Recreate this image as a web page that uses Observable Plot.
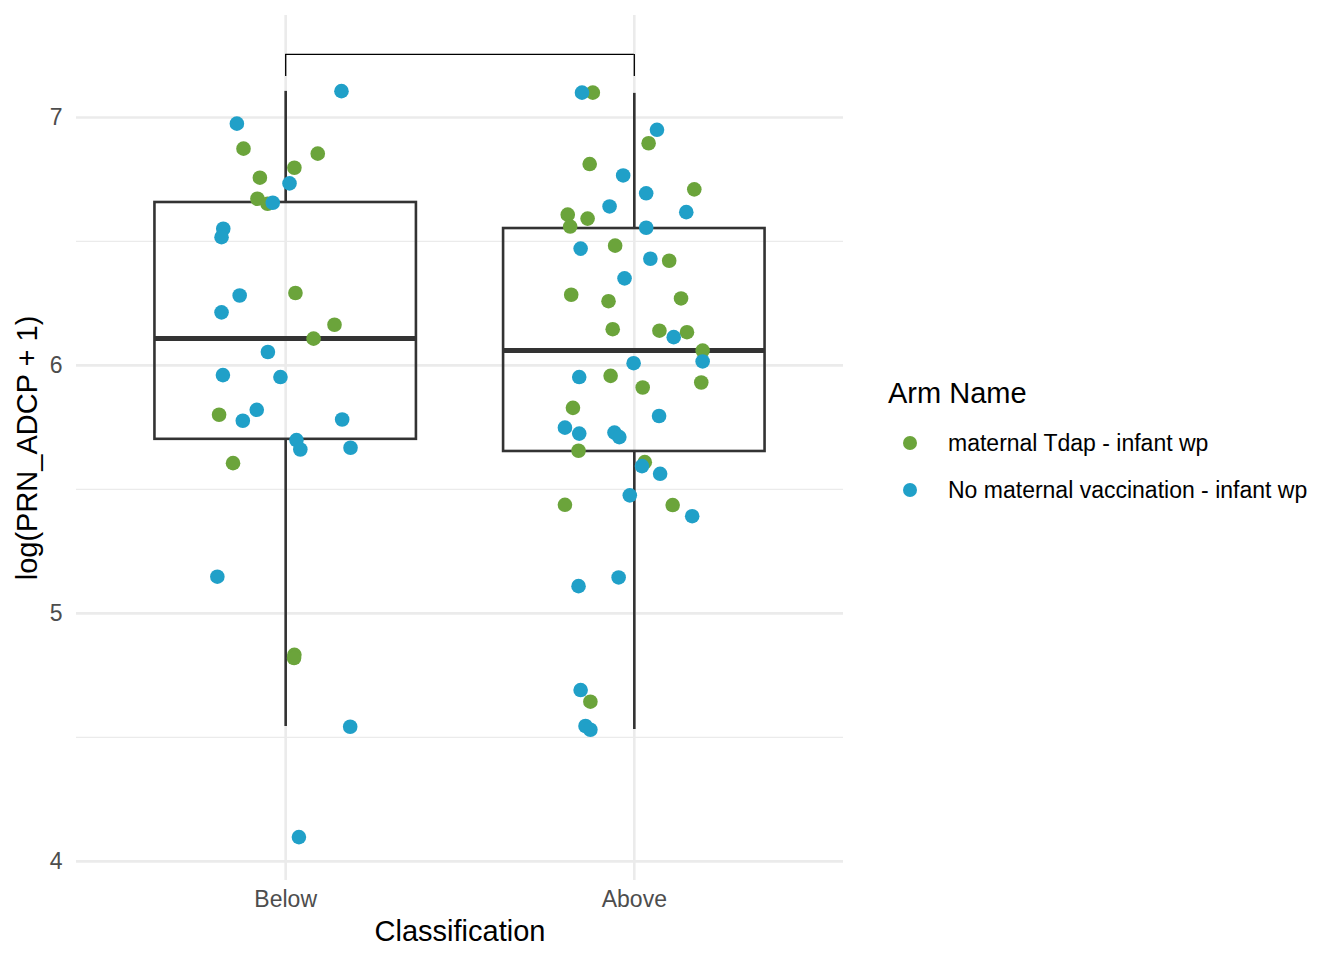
<!DOCTYPE html>
<html>
<head>
<meta charset="utf-8">
<script src="https://cdn.jsdelivr.net/npm/d3@7"></script>
<script src="https://cdn.jsdelivr.net/npm/@observablehq/plot@0.6"></script>
<style>
  body { margin: 0; background: #fff; }
  #wrap { position: relative; width: 1344px; height: 960px; font-family: "Liberation Sans", Arial, Helvetica, sans-serif; }
  .leg { position: absolute; white-space: nowrap; color: #000; }
  .key { position: absolute; width: 14px; height: 14px; border-radius: 50%; }
</style>
</head>
<body>
<div id="wrap"></div>
<script>
// ---- data ----
const categories = ["Below", "Above"];
const arms = ["maternal Tdap - infant wp", "No maternal vaccination - infant wp"];
const armColors = ["#6ba43b", "#20a0c8"];

// jitter is in category units (as ggplot's jittered x)
const belowTdapValue  = [6.874, 6.854, 6.797, 6.757, 6.672, 6.652, 6.292, 6.164, 6.108, 5.801, 5.606, 4.833, 4.820];
const belowTdapJitter = [-0.121, 0.092, 0.025, -0.074, -0.081, -0.052, 0.028, 0.140, 0.080, -0.191, -0.151, 0.025, 0.024];

const belowNoneValue  = [7.106, 6.975, 6.734, 6.656, 6.551, 6.517, 6.282, 6.214, 6.054, 5.961, 5.953, 5.821, 5.777, 5.782, 5.699, 5.661, 5.668, 5.148, 4.543, 4.098];
const belowNoneJitter = [0.160, -0.140, 0.011, -0.037, -0.179, -0.184, -0.132, -0.184, -0.051, -0.180, -0.015, -0.083, -0.123, 0.162, 0.031, 0.042, 0.186, -0.196, 0.185, 0.038];

const aboveTdapValue  = [7.100, 6.896, 6.812, 6.710, 6.608, 6.592, 6.560, 6.483, 6.422, 6.285, 6.259, 6.270, 6.146, 6.140, 6.134, 6.060, 5.958, 5.911, 5.931, 5.829, 5.656, 5.610, 5.438, 5.437, 4.644];
const aboveTdapJitter = [-0.119, 0.041, -0.128, 0.172, -0.191, -0.134, -0.184, -0.055, 0.100, -0.181, -0.074, 0.134, -0.062, 0.072, 0.151, 0.196, -0.068, 0.024, 0.192, -0.176, -0.160, 0.030, -0.199, 0.110, -0.126];

const aboveNoneValue  = [7.100, 6.950, 6.766, 6.694, 6.641, 6.618, 6.555, 6.471, 6.430, 6.351, 6.114, 6.016, 6.009, 5.953, 5.796, 5.749, 5.725, 5.729, 5.711, 5.594, 5.563, 5.476, 5.392, 5.110, 5.145, 4.691, 4.546, 4.531];
const aboveNoneJitter = [-0.150, 0.065, -0.032, 0.034, -0.071, 0.149, 0.034, -0.154, 0.046, -0.028, 0.113, 0.196, -0.002, -0.158, 0.071, -0.199, -0.158, -0.057, -0.043, 0.022, 0.074, -0.013, 0.166, -0.160, -0.045, -0.154, -0.140, -0.126];

// box statistics per category (Below, Above)
const boxLow    = [4.544, 4.532];
const boxQ1     = [5.702, 5.653];
const boxMedian = [6.109, 6.060];
const boxQ3     = [6.657, 6.552];
const boxHigh   = [7.105, 7.097];

// comparison bracket
const bracketTop = 7.254;
const bracketTip = 7.165;

const yTicks = [4, 5, 6, 7];
const yMinor = [4.5, 5.5, 6.5];

// ---- build tables ----
function group(cat, arm, values, jitters) {
  return values.map((v, i) => ({cls: cat, pos: categories.indexOf(cat) + 1 + jitters[i], arm, value: v}));
}
const points = [
  ...group("Below", arms[0], belowTdapValue, belowTdapJitter),
  ...group("Above", arms[0], aboveTdapValue, aboveTdapJitter),
  ...group("Below", arms[1], belowNoneValue, belowNoneJitter),
  ...group("Above", arms[1], aboveNoneValue, aboveNoneJitter)
];
const boxes = categories.map((c, i) => ({
  cls: c, pos: i + 1, lo: boxLow[i], q1: boxQ1[i], med: boxMedian[i], q3: boxQ3[i], hi: boxHigh[i]
}));
const half = 0.375;
const font = "'Liberation Sans', Arial, Helvetica, sans-serif";

const plot = Plot.plot({
  width: 1344,
  height: 960,
  marginLeft: 76,
  marginRight: 501,
  marginTop: 15,
  marginBottom: 80,
  style: {fontFamily: font, background: "white"},
  x: {type: "linear", domain: [0.4, 2.6], axis: null},
  y: {domain: [3.923, 7.411], axis: null},
  color: {domain: arms, range: armColors},
  marks: [
    Plot.gridY(yMinor, {stroke: "#ebebeb", strokeOpacity: 1, strokeWidth: 1.3}),
    Plot.gridY(yTicks, {stroke: "#ebebeb", strokeOpacity: 1, strokeWidth: 2.6}),
    Plot.gridX([1, 2], {stroke: "#ebebeb", strokeOpacity: 1, strokeWidth: 2.6}),
    Plot.axisY(yTicks, {tickSize: 0, tickPadding: 14, fontSize: 23, color: "#4d4d4d", label: null,
      tickFormat: d => String(d)}),
    Plot.axisX([1, 2], {tickSize: 0, tickPadding: 10, fontSize: 23, color: "#4d4d4d", label: null,
      tickFormat: d => categories[d - 1]}),
    // whiskers
    Plot.ruleX(boxes, {x: "pos", y1: "q3", y2: "hi", stroke: "#333333", strokeWidth: 2.6}),
    Plot.ruleX(boxes, {x: "pos", y1: "lo", y2: "q1", stroke: "#333333", strokeWidth: 2.6}),
    // boxes
    Plot.rect(boxes, {x1: d => d.pos - half, x2: d => d.pos + half, y1: "q1", y2: "q3",
      fill: "none", stroke: "#333333", strokeWidth: 2.6}),
    Plot.ruleY(boxes, {y: "med", x1: d => d.pos - half, x2: d => d.pos + half, stroke: "#333333", strokeWidth: 5}),
    // bracket
    Plot.ruleY([bracketTop], {x1: 1, x2: 2, stroke: "#000", strokeWidth: 1.3}),
    Plot.ruleX([1, 2], {y1: bracketTip, y2: bracketTop, stroke: "#000", strokeWidth: 1.3}),
    // points
    Plot.dot(points, {x: "pos", y: "value", fill: "arm", r: 7.3, stroke: null}),
    // axis titles
    Plot.text(["Classification"], {frameAnchor: "bottom", dy: 60, fontSize: 29, fill: "#000", text: d => d}),
    Plot.text(["log(PRN_ADCP + 1)"], {frameAnchor: "left", dx: -49, rotate: -90, textAnchor: "middle",
      fontSize: 29, fill: "#000", text: d => d})
  ]
});

const wrap = document.getElementById("wrap");
wrap.appendChild(plot);

// legend
const title = document.createElement("div");
title.className = "leg";
title.textContent = "Arm Name";
Object.assign(title.style, {left: "888px", top: "379px", fontSize: "29px", lineHeight: "29px"});
wrap.appendChild(title);

const keyY = [443, 490];
arms.forEach((a, i) => {
  const k = document.createElement("div");
  k.className = "key";
  Object.assign(k.style, {left: (910 - 7) + "px", top: (keyY[i] - 7) + "px", background: armColors[i]});
  wrap.appendChild(k);
  const t = document.createElement("div");
  t.className = "leg";
  t.textContent = a;
  Object.assign(t.style, {left: "948px", top: (keyY[i] - 11.5) + "px", fontSize: "23px", lineHeight: "23px"});
  wrap.appendChild(t);
});
</script>
</body>
</html>
